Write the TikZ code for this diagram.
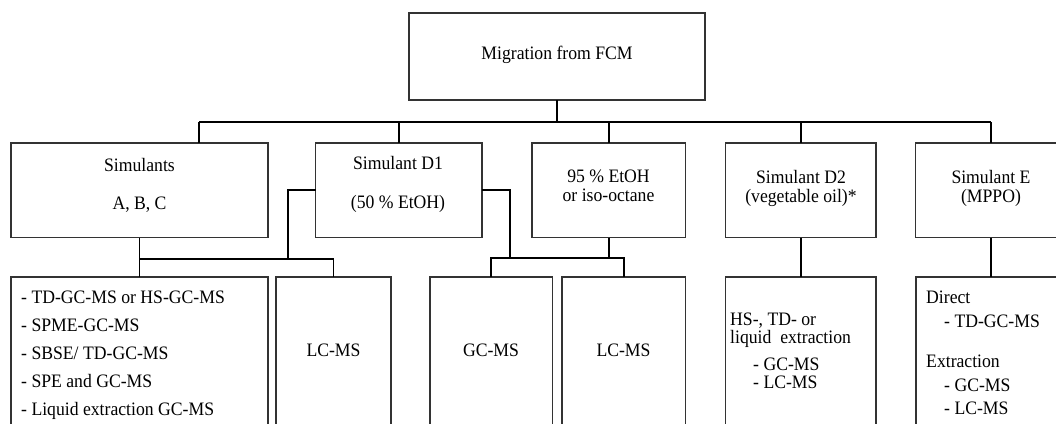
\documentclass[tikz,border=0pt]{standalone}
\usepackage{fontspec}
\setmainfont{Liberation Serif}[FakeStretch=0.93]
\begin{document}
\begin{tikzpicture}[x=1pt,y=-1pt,
  box/.style={draw=black!80,line width=1.3pt,inner sep=0pt,outer sep=0pt,rectangle},
  conn/.style={draw=black,line width=1.6pt},
  txt/.style={anchor=base,inner sep=0pt,font=\fontsize{19}{22}\selectfont},
  ltxt/.style={anchor=base west,inner sep=0pt,font=\fontsize{19}{22}\selectfont}]
\useasboundingbox (0,0) rectangle (1056,423);
\clip (0,0) rectangle (1056,423);
% boxes
\node[box,minimum width=296pt,minimum height=87pt] (top) at (557,56.5) {};
\node[box,minimum width=257pt,minimum height=94.5pt] (sim) at (139.5,190.25) {};
\node[box,minimum width=166.5pt,minimum height=94.5pt] (d1) at (398.75,190.25) {};
\node[box,minimum width=153.5pt,minimum height=94.5pt] (e95) at (608.75,190.25) {};
\node[box,minimum width=150.5pt,minimum height=94.5pt] (d2) at (800.75,190.25) {};
\node[box,minimum width=154.5pt,minimum height=94.5pt] (se) at (992.75,190.25) {};
\node[box,minimum width=257pt,minimum height=163pt] (b1) at (139.5,358.5) {};
\node[box,minimum width=115pt,minimum height=163pt] (b2) at (333.5,358.5) {};
\node[box,minimum width=122.5pt,minimum height=163pt] (b3) at (491.25,358.5) {};
\node[box,minimum width=123.5pt,minimum height=163pt] (b4) at (623.75,358.5) {};
\node[box,minimum width=150.5pt,minimum height=163pt] (b5) at (800.75,358.5) {};
\node[box,minimum width=154pt,minimum height=163pt] (b6) at (993,358.5) {};
% connectors
\coordinate (busL) at (199,122);
\coordinate (busR) at (991,122);
\draw[conn] (top.south) -- (top.south |- busL);
\draw[conn] (busL) -- (busR);
\draw[conn] (busL) -- (busL |- sim.north);
\draw[conn] (d1.north |- busL) -- (d1.north);
\draw[conn] (e95.north |- busL) -- (e95.north);
\draw[conn] (d2.north |- busL) -- (d2.north);
\draw[conn] (busR) -- (busR |- se.north);
\coordinate (bus2) at (140,259);
\coordinate (d1l) at (288,190.25);
\coordinate (d1r) at (510,190.25);
\coordinate (bus3) at (510,258);
\draw[conn] (sim.south) -- (b1.north);
\draw[conn] (sim.south |- bus2) -- (b2.north |- bus2) -- (b2.north);
\draw[conn] (d1.west) -- (d1l) -- (d1l |- bus2);
\draw[conn] (d1.east) -- (d1r) -- (bus3);
\draw[conn] (e95.south) -- (e95.south |- bus3);
\draw[conn] (b3.north) -- (b3.north |- bus3) -- (b4.north |- bus3) -- (b4.north);
\draw[conn] (d2.south) -- (b5.north);
\draw[conn] (busR |- se.south) -- (busR |- b6.north);
% texts
\node[txt] (t0) at (557,59.5) {Migration from FCM};
\node[txt] (t1) at (139.5,171) {Simulants};
\node[txt] (t2) at (139.5,209.5) {A, B, C};
\node[txt] (t3) at (398,169.5) {Simulant D1};
\node[txt] (t4) at (398,208.5) {(50 \% EtOH)};
\node[txt] (t5) at (608.5,182.5) {95 \% EtOH};
\node[txt] (t6) at (608.5,201.5) {or iso-octane};
\node[txt] (t7) at (801,183.5) {Simulant D2};
\node[txt] (t8) at (801,202.5) {(vegetable oil)*};
\node[txt] (t9) at (991,183.5) {Simulant E};
\node[txt] (t10) at (991,202.5) {(MPPO)};
\node[ltxt] (u1) at (21,303.5) {- TD-GC-MS or HS-GC-MS};
\node[ltxt] (u2) at (21,331.5) {- SPME-GC-MS};
\node[ltxt] (u3) at (21,359.5) {- SBSE/ TD-GC-MS};
\node[ltxt] (u4) at (21,387.5) {- SPE and GC-MS};
\node[ltxt] (u5) at (21,415) {- Liquid extraction GC-MS};
\node[txt] (v1) at (333.5,356.5) {LC-MS};
\node[txt] (v2) at (491,356.5) {GC-MS};
\node[txt] (v3) at (623.5,356.5) {LC-MS};
\node[ltxt] (w1) at (730,325.5) {HS-, TD- or};
\node[ltxt] (w2) at (730,343.5) {liquid\ \ extraction};
\node[ltxt] (w3) at (753,370.5) {- GC-MS};
\node[ltxt] (w4) at (753,388.5) {- LC-MS};
\node[ltxt] (x1) at (926,303.5) {Direct};
\node[ltxt] (x2) at (944,327.5) {- TD-GC-MS};
\node[ltxt] (x3) at (926,367.5) {Extraction};
\node[ltxt] (x4) at (944,391.5) {- GC-MS};
\node[ltxt] (x5) at (944,414.5) {- LC-MS};
\end{tikzpicture}
\end{document}
